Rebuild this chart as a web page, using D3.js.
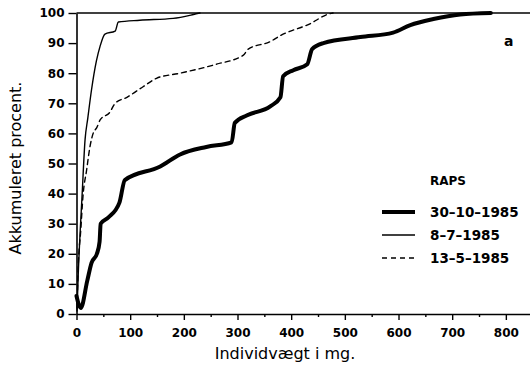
<!DOCTYPE html>
<html>
<head>
<meta charset="utf-8">
<script src="https://cdn.jsdelivr.net/npm/d3@7"></script>
<style>
  body { margin: 0; background: #fff; }
  text { font-family: "DejaVu Sans", sans-serif; fill: #000; }
</style>
</head>
<body>
<script>
// Data (weight in mg, cumulative percent)
var okt = [[0, 6], [8, 2], [20, 11], [28, 17], [38, 20], [43, 24], [45, 30], [59, 32], [80, 37], [90, 44.5],
  [156, 49], [193, 53], [242, 55.5], [289, 57], [295, 63.5], [318, 66], [361, 69], [380, 72], [385, 79],
  [404, 81], [430, 83], [439, 88], [460, 90], [529, 92], [590, 93.5], [622, 96], [665, 98], [715, 99.5], [772, 100]];
var jul = [[1, 1], [3, 12], [7, 28], [10, 38], [16, 58], [21, 65], [28, 74.5], [37, 84], [44, 89], [53, 93],
  [72, 94], [78, 97], [118, 97.6], [180, 98.2], [218, 99.5], [230, 100]];
var maj = [[1, 2], [3, 14.6], [8, 28], [12, 39], [19, 48], [25, 55.5], [31, 60], [38, 62], [44, 64.5],
  [62, 67], [72, 70], [94, 72], [124, 75.5], [149, 78.3], [193, 80], [261, 83], [311, 86], [320, 88],
  [361, 90.5], [380, 92.5], [436, 96.5], [467, 99.5], [478, 100]];
var xTicks = [0, 100, 200, 300, 400, 500, 600, 700, 800];
var yTicks = [0, 10, 20, 30, 40, 50, 60, 70, 80, 90, 100];
var series = [
  {name: "30-10-1985", data: okt, width: 4, dash: null},
  {name: "8-7-1985", data: jul, width: 1.4, dash: null},
  {name: "13-5-1985", data: maj, width: 1.4, dash: "5,4"}
];

var width = 530, height = 369;
var margin = {top: 13, right: 0, bottom: 55, left: 76.5};

var svg = d3.select("body").append("svg")
  .attr("width", width)
  .attr("height", height);

var x = d3.scaleLinear().domain([0, 845]).range([margin.left, width - margin.right]);
var y = d3.scaleLinear().domain([0, 100]).range([height - margin.bottom, margin.top]);

// x axis, major and minor ticks
svg.append("g")
  .attr("transform", "translate(0," + y(0) + ")")
  .call(d3.axisBottom(x).tickValues(xTicks).tickSize(6).tickSizeOuter(0).tickPadding(8));
svg.append("g")
  .attr("transform", "translate(0," + y(0) + ")")
  .call(d3.axisBottom(x).tickValues(d3.range(50, 850, 100)).tickSize(3).tickFormat(""))
  .select(".domain").remove();

// y axis
svg.append("g")
  .attr("transform", "translate(" + x(0) + ",0)")
  .call(d3.axisLeft(y).tickValues(yTicks).tickSize(8).tickSizeOuter(0).tickPadding(4));

svg.selectAll(".domain").attr("stroke-width", 1.6);
svg.selectAll(".tick line").attr("stroke-width", 1.4);
svg.selectAll(".tick text").style("font-size", "12px").style("font-weight", "bold");

// 100 % line
svg.append("line")
  .attr("x1", x(0)).attr("x2", width)
  .attr("y1", y(100)).attr("y2", y(100))
  .attr("stroke", "#000").attr("stroke-width", 1.4);

var line = d3.line()
  .x(function (d) { return x(d[0]); })
  .y(function (d) { return y(d[1]); })
  .curve(d3.curveMonotoneX);

series.forEach(function (s) {
  svg.append("path")
    .datum(s.data)
    .attr("fill", "none")
    .attr("stroke", "#000")
    .attr("stroke-width", s.width)
    .attr("stroke-dasharray", s.dash)
    .attr("stroke-linejoin", "round")
    .attr("stroke-linecap", "round")
    .attr("d", line);
});

// titles
svg.append("text")
  .attr("x", 285).attr("y", 359)
  .style("text-anchor", "middle")
  .style("font-size", "16px")
  .text("Individvægt i mg.");

svg.append("text")
  .attr("transform", "translate(21,168) rotate(-90)")
  .style("text-anchor", "middle")
  .style("font-size", "16px")
  .text("Akkumuleret procent.");

svg.append("text")
  .attr("x", 504).attr("y", 46)
  .style("font-size", "14px")
  .style("font-weight", "bold")
  .text("a");

// legend
var legend = svg.append("g").attr("transform", "translate(382,0)");
legend.append("text")
  .attr("x", 48).attr("y", 185)
  .style("font-size", "12px")
  .style("font-weight", "bold")
  .text("RAPS");
series.forEach(function (s, i) {
  var ly = 212 + i * 23;
  legend.append("line")
    .attr("x1", 0).attr("x2", 33)
    .attr("y1", ly).attr("y2", ly)
    .attr("stroke", "#000")
    .attr("stroke-width", s.width)
    .attr("stroke-dasharray", s.dash);
  legend.append("text")
    .attr("x", 48).attr("y", ly + 5)
    .style("font-size", "13.5px")
    .style("font-weight", "bold")
    .text(s.name.replace(/-/g, "\u2013"));
});
</script>
</body>
</html>
